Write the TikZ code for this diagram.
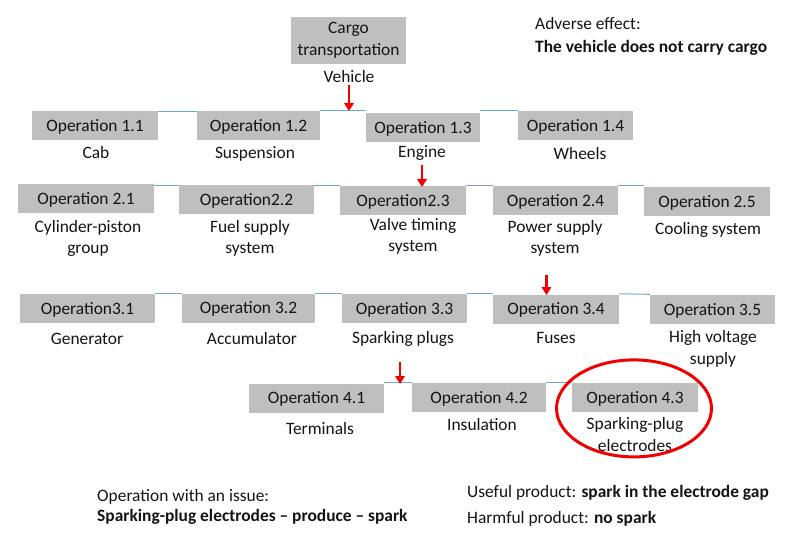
\documentclass[tikz,border=0pt]{standalone}
\usepackage{fontspec}
\setmainfont{Carlito}
\usetikzlibrary{arrows.meta}
\definecolor{boxgray}{RGB}{191,191,191}
\definecolor{linkblue}{RGB}{110,165,220}
\definecolor{arrowred}{RGB}{240,0,0}
\definecolor{txt}{RGB}{20,20,20}
\begin{document}
\begin{tikzpicture}[x=1pt,y=-1pt,
  every node/.style={font=\fontsize{17.4}{21.5}\selectfont, inner sep=0pt, text=txt},
  opbox/.style={fill=boxgray, minimum height=29pt, text height=11.2pt, text depth=0pt},
  lbl/.style={align=center, anchor=base},
  lft/.style={anchor=base west},
  linkline/.style={draw=linkblue, line width=1pt},
  redarrow/.style={draw=arrowred, line width=2.6pt, -{Triangle[width=9.5pt,length=8pt]}},
  ring/.style={draw=arrowred, line width=3pt},
]
\useasboundingbox (0,0) rectangle (800,553);

% top box
\node[fill=boxgray, minimum width=115pt, minimum height=47pt, align=center] (cargo) at (348.5,40.5) {Cargo\\transportation};
\node[lbl] (vehicle) at (349,83) {Vehicle};

\node[lft] (adv) at (535,30) {Adverse effect:};
\node[lft] (advb) at (535,52.7) {\bfseries The vehicle does not carry cargo};

% row 1
\node[opbox, minimum width=126pt] (op11) at (95,126) {Operation 1.1};
\node[opbox, minimum width=123pt] (op12) at (258.5,125.5) {Operation 1.2};
\node[opbox, minimum width=114pt] (op13) at (423,127.5) {Operation 1.3};
\node[opbox, minimum width=115pt] (op14) at (575.5,125.5) {Operation 1.4};
\draw[linkline] (op11.north east) -- (op11.north east -| op12.west);
\draw[linkline] (op12.north east) -- (op12.north east -| op13.west);
\draw[linkline] (op13.north east |- op12.north) -- (op14.north west);
\node[lbl] (cab) at (96,159) {Cab};
\node[lbl] (susp) at (255,159) {Suspension};
\node[lbl] (engine) at (422,158) {Engine};
\node[lbl] (wheels) at (580,160) {Wheels};

% row 2
\node[opbox, minimum width=136pt] (op21) at (86,199) {Operation 2.1};
\node[opbox, minimum width=135pt] (op22) at (246.5,200) {Operation2.2};
\node[opbox, minimum width=126pt] (op23) at (403,200.5) {Operation2.3};
\node[opbox, minimum width=125pt] (op24) at (555.5,200.5) {Operation 2.4};
\node[opbox, minimum width=126pt] (op25) at (707,201.5) {Operation 2.5};
\draw[linkline] (op21.north east |- op22.north) -- (op22.north west);
\draw[linkline] (op22.north east |- op23.north) -- (op23.north west);
\draw[linkline] (op23.north east) -- (op24.north west);
\draw[linkline] (op24.north east) -- (op24.north east -| op25.west);
\node[lbl] (cyl) at (88,254) {Cylinder-piston\\group};
\node[lbl] (fuel) at (250,254) {Fuel supply\\system};
\node[lbl] (valve) at (413,252) {Valve timing\\system};
\node[lbl] (power) at (555,254) {Power supply\\system};
\node[lbl] (cooling) at (708,235) {Cooling system};

% row 3
\node[opbox, minimum width=135pt] (op31) at (87.5,308.5) {Operation3.1};
\node[opbox, minimum width=133pt] (op32) at (248.5,308) {Operation 3.2};
\node[opbox, minimum width=125pt] (op33) at (404.5,308.5) {Operation 3.3};
\node[opbox, minimum width=126pt] (op34) at (556,309) {Operation 3.4};
\node[opbox, minimum width=125pt] (op35) at (712.5,309.5) {Operation 3.5};
\draw[linkline] (op31.north east) -- (op31.north east -| op32.west);
\draw[linkline] (op32.north east |- op31.north) -- (op33.north west);
\draw[linkline] (op33.north east) -- (op33.north east -| op34.west);
\draw[linkline] (op34.north east |- op33.north) -- (op34.north east -| op35.west);
\node[lbl] (gen) at (87,344) {Generator};
\node[lbl] (acc) at (252,344) {Accumulator};
\node[lbl] (plugs) at (403,343) {Sparking plugs};
\node[lbl] (fuses) at (556,343) {Fuses};
\node[lbl] (hv) at (713,364) {High voltage\\supply};

% row 4
\node[opbox, minimum width=135pt] (op41) at (316.5,398) {Operation 4.1};
\node[opbox, minimum width=134pt] (op42) at (479,397.5) {Operation 4.2};
\node[opbox, minimum width=126pt] (op43) at (635,397.5) {Operation 4.3};
\draw[linkline] (op41.north east |- op42.north) -- (op42.north west);
\draw[linkline] (op42.north east) -- (op43.north west);
\node[lbl] (term) at (320,434) {Terminals};
\node[lbl] (insul) at (482,430) {Insulation};
\node[lbl] (spe) at (635,451) {Sparking-plug\\electrodes};

% red arrows
\coordinate (a1s) at (349,85);  \coordinate (a1e) at (349,111);
\coordinate (a2s) at (422,165); \coordinate (a2e) at (422,187);
\coordinate (a3s) at (546.5,275); \coordinate (a3e) at (546.5,295);
\coordinate (a4s) at (400,362); \coordinate (a4e) at (400,384);
\draw[redarrow] (a1s) -- (a1e);
\draw[redarrow] (a2s) -- (a2e);
\draw[redarrow] (a3s) -- (a3e);
\draw[redarrow] (a4s) -- (a4e);

% highlight ring
\draw[ring] (634,408.4) ellipse [x radius=77.5pt, y radius=48.5pt];

% bottom texts
\node[lft] (issue) at (97,501) {Operation with an issue:};
\node[lft] (issueb) at (97,521.7) {\bfseries Sparking-plug electrodes -- produce -- spark};
\node[lft] (useful) at (467,497.7) {Useful product: \textbf{spark in the electrode gap}};
\node[lft] (harm) at (467,523) {Harmful product: \textbf{no spark}};
\end{tikzpicture}
\end{document}
